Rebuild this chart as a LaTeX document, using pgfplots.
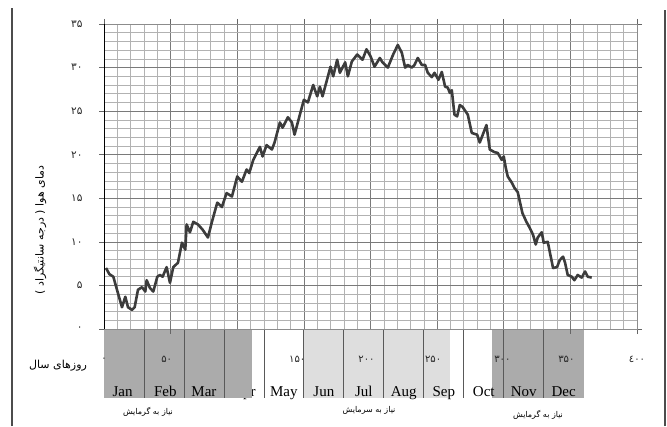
\documentclass[border=0pt]{standalone}
\usepackage{fontspec}
\setmainfont{Liberation Serif}
\newfontfamily\fa[Script=Arabic]{DejaVu Sans}
\newfontfamily\fd{DejaVu Sans}
\usepackage{pgfplots}
\pgfplotsset{compat=1.18}
\TeXXeTstate=1
\definecolor{darkband}{HTML}{ABABAB}
\definecolor{lightband}{HTML}{DEDEDE}
\definecolor{curve}{HTML}{3C3C3C}
\begin{document}
\begin{tikzpicture}[x=1bp,y=1bp]
\useasboundingbox (0,0) rectangle (667,426);
\draw[line width=1.3bp, black!70] (12,0) -- (12,418);
\draw[line width=1.3bp, black!70] (665,0) -- (665,416);
\begin{axis}[
  at={(104bp,97bp)}, anchor=south west, scale only axis,
  width=533bp, height=305bp,
  xmin=0, xmax=400, ymin=0, ymax=35, clip=false,
  xtick={0,50,...,400},
  xticklabels={},
  ytick={0,5,...,35},
  yticklabels={۰,۵,۱۰,۱۵,۲۰,۲۵,۳۰,۳۵},
  minor xtick={0,10,...,400},
  minor ytick={0,1,...,35},
  grid=both,
  major grid style={black!52, line width=0.7bp},
  minor grid style={black!30, line width=0.6bp},
  axis line style={black!45, line width=0.7bp},
  tick align=outside, major tick length=5bp, minor tick length=0pt,
  tick style={black!60, line width=0.7bp},
  ticklabel style={font=\fd\fontsize{10.5bp}{12bp}\selectfont, text=black!85},
  yticklabel style={xshift=-13bp},
]
\node[anchor=base, font=\fontsize{15bp}{17bp}\selectfont] at (axis cs:105,-7.8) {Apr};
\fill[darkband] (axis cs:0,-0.1) rectangle (axis cs:111,-7.9);
\fill[lightband] (axis cs:150,-0.1) rectangle (axis cs:260,-7.9);
\fill[darkband] (axis cs:291,-0.1) rectangle (axis cs:360,-7.9);
\pgfplotsinvokeforeach{30,60,...,330}{
  \draw[black!65, line width=0.8bp] (axis cs:#1,-0.1) -- (axis cs:#1,-7.9);
}
\draw[black!60, line width=0.7bp] (axis cs:50,0) -- (axis cs:50,-0.6);
\draw[black!60, line width=0.7bp] (axis cs:350,0) -- (axis cs:350,-0.6);
\node[anchor=base, font=\fontsize{15bp}{17bp}\selectfont] at (axis cs:14,-7.8) {Jan};
\node[anchor=base, font=\fontsize{15bp}{17bp}\selectfont] at (axis cs:46,-7.8) {Feb};
\node[anchor=base, font=\fontsize{15bp}{17bp}\selectfont] at (axis cs:75,-7.8) {Mar};
\node[anchor=base, font=\fontsize{15bp}{17bp}\selectfont] at (axis cs:135,-7.8) {May};
\node[anchor=base, font=\fontsize{15bp}{17bp}\selectfont] at (axis cs:165,-7.8) {Jun};
\node[anchor=base, font=\fontsize{15bp}{17bp}\selectfont] at (axis cs:195,-7.8) {Jul};
\node[anchor=base, font=\fontsize{15bp}{17bp}\selectfont] at (axis cs:225,-7.8) {Aug};
\node[anchor=base, font=\fontsize{15bp}{17bp}\selectfont] at (axis cs:255,-7.8) {Sep};
\node[anchor=base, font=\fontsize{15bp}{17bp}\selectfont] at (axis cs:285,-7.8) {Oct};
\node[anchor=base, font=\fontsize{15bp}{17bp}\selectfont] at (axis cs:315,-7.8) {Nov};
\node[anchor=base, font=\fontsize{15bp}{17bp}\selectfont] at (axis cs:345,-7.8) {Dec};
\node[font=\fd\fontsize{10bp}{12bp}\selectfont, text=black!85] at (axis cs:0,-3.5) {۰};
\node[font=\fd\fontsize{10bp}{12bp}\selectfont, text=black!85] at (axis cs:47,-3.5) {۵۰};
\node[font=\fd\fontsize{10bp}{12bp}\selectfont, text=black!85] at (axis cs:145,-3.5) {۱۵۰};
\node[font=\fd\fontsize{10bp}{12bp}\selectfont, text=black!85] at (axis cs:197,-3.5) {۲۰۰};
\node[font=\fd\fontsize{10bp}{12bp}\selectfont, text=black!85] at (axis cs:247,-3.5) {۲۵۰};
\node[font=\fd\fontsize{10bp}{12bp}\selectfont, text=black!85] at (axis cs:299,-3.5) {۳۰۰};
\node[font=\fd\fontsize{10bp}{12bp}\selectfont, text=black!85] at (axis cs:347,-3.5) {۳۵۰};
\node[font=\fd\fontsize{10bp}{12bp}\selectfont, text=black!85] at (axis cs:400,-3.5) {٤۰۰};
\draw[black, line width=0.9bp] (axis cs:0,0) -- (axis cs:0,35);
\addplot[curve, line width=2.6bp, line join=round, no markers] coordinates {
(1.5,7.0) (4,6.3) (7,6.0) (10.5,4.1) (13.5,2.5) (16,3.7) (18,2.5) (21,2.2) (23,2.5)
(25.5,4.5) (28.5,4.8) (31,4.3) (32,5.6) (34.5,4.7) (37,4.3) (40,6.0) (42,6.2) (44,6.0)
(47,7.1) (49.5,5.3) (52,7.1) (55.5,7.6) (58.5,9.9) (61,9.1) (62,12.0) (64.5,11.1)
(67,12.3) (70.5,12.0) (74,11.4) (78,10.5) (81,12.3) (85,14.5) (88.5,14.0) (92,15.6)
(96,15.2) (100,17.5) (103.5,16.9) (107,18.3) (109,17.9) (112,19.4) (117,20.9)
(119,19.8) (122,21.1) (126,20.6) (128,21.4) (132,23.7) (134,23.1) (138,24.3)
(141,23.7) (143,22.3) (147,24.6) (150,26.3) (153,26.0) (157,28.0) (160,26.7)
(162,27.8) (164,26.7) (170,30.1) (172,29.0) (175,30.9) (177,29.4) (181,30.6)
(183,29.0) (186,30.7) (190,31.5) (194,30.9) (197,32.1) (200,31.3) (203,30.1)
(207,31.1) (209,30.6) (213,30.0) (217,31.5) (220.5,32.6) (223.5,31.7) (226,30.0)
(228,30.3) (231,30.0) (233,30.3) (235.5,31.1) (238.5,30.3) (241,30.3) (243,29.4)
(246,28.9) (248,29.4) (251,28.6) (253.5,29.5) (256,27.8) (258,27.7) (259.5,27.1)
(261,27.4) (263,24.6) (265,24.4) (267,25.7) (269,25.5) (273,24.6) (276,22.5)
(280,22.3) (282,21.4) (287,23.4) (289.5,20.6) (293,20.3) (295.5,20.2) (298.5,19.4)
(300,19.8) (301.5,18.5) (303,17.5) (306,16.8) (308,16.2) (310.5,15.7) (314,13.3)
(317,12.3) (319.5,11.6) (322,10.8) (324,9.7) (325.5,10.5) (328.5,11.1) (330,9.9)
(333,10.0) (337,7.0) (340,7.1) (342,7.9) (344.5,8.3) (346,7.6) (348,6.2) (351,6.0)
(353,5.6) (355.5,6.2) (358.5,5.9) (361,6.6) (363,6.0) (366,5.9)
};
\end{axis}
\node[rotate=90, font=\fa\fontsize{11bp}{13bp}\selectfont] at (40,196) {\beginR دمای هوا ( درجه سانتیگراد )\endR};
\node[font=\fa\fontsize{11bp}{13bp}\selectfont] at (58,60) {\beginR روزهای سال\endR};
\node[font=\fa\fontsize{8bp}{10bp}\selectfont] at (148,14) {\beginR نیاز به گرمایش\endR};
\node[font=\fa\fontsize{8bp}{10bp}\selectfont] at (369,16) {\beginR نیاز به سرمایش\endR};
\node[font=\fa\fontsize{8bp}{10bp}\selectfont] at (538,11) {\beginR نیاز به گرمایش\endR};
\end{tikzpicture}
\end{document}
